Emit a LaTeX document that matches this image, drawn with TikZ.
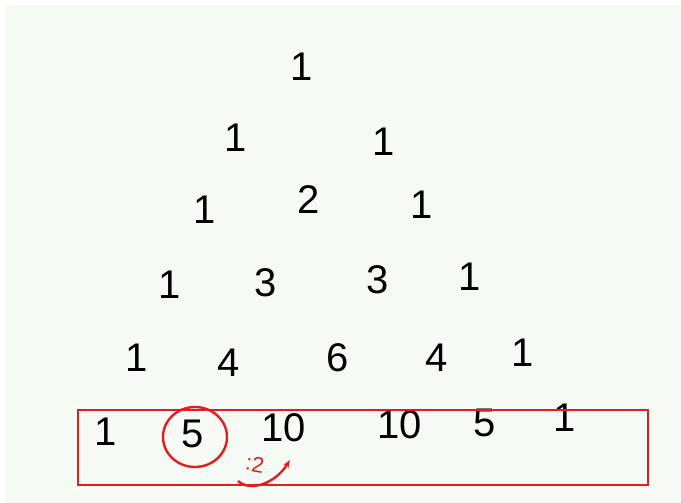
\documentclass[tikz,border=0pt]{standalone}
\usepackage{fontspec}
\setmainfont{Liberation Sans}
\usetikzlibrary{shapes.geometric, arrows.meta, positioning}
\definecolor{paper}{RGB}{245,250,245}
\definecolor{pen}{RGB}{225,30,30}

\begin{document}
\begin{tikzpicture}[x=1pt, y=-1pt]
\tikzstyle{num} = [font=\fontsize{40}{40}\selectfont, inner sep=0pt, text=black]
\tikzstyle{redpen} = [draw=pen, line width=2.4pt]
\tikzstyle{arrow} = [redpen, -{Stealth[length=8pt]}]
\useasboundingbox (0,0) rectangle (681,503);
\fill[paper] (5,5) rectangle (681,503);
% row 0
\node (a0) [num] at (302,67) {1};
% row 1
\node (b0) [num] at (236,138) {1};
\node (b1) [num] at (384,142) {1};
% row 2
\node (c0) [num] at (205,210) {1};
\node (c1) [num] at (309,200) {2};
\node (c2) [num] at (422,205) {1};
% row 3
\node (d0) [num] at (170,285) {1};
\node (d1) [num] at (266,283) {3};
\node (d2) [num] at (378,280) {3};
\node (d3) [num] at (470,277) {1};
% row 4
\node (e0) [num] at (137,358) {1};
\node (e1) [num] at (229,363) {4};
\node (e2) [num] at (338,358) {6};
\node (e3) [num] at (437,358) {4};
\node (e4) [num] at (523,353) {1};
% row 5
\node (f0) [num] at (106,432) {1};
\node (f1) [num] at (193,434) {5};
\node (f2) [num] at (284,428) {10};
\node (f3) [num] at (400,425) {10};
\node (f4) [num] at (485,423) {5};
\node (f5) [num] at (565,418) {1};
% red marks
\draw[redpen] (78,410) rectangle (648,485);
\node (ring) [redpen, ellipse, minimum width=64pt, minimum height=60pt] at (195,437) {};
\node (half) [font=\fontsize{22}{22}\selectfont, text=pen, inner sep=0pt, rotate=-10] at (255,464) {:2};
\coordinate (from) at (238,481);
\coordinate (to) at (290,460);
\draw[arrow] (from) .. controls (250,492) and (275,484) .. (to);
\end{tikzpicture}
\end{document}
